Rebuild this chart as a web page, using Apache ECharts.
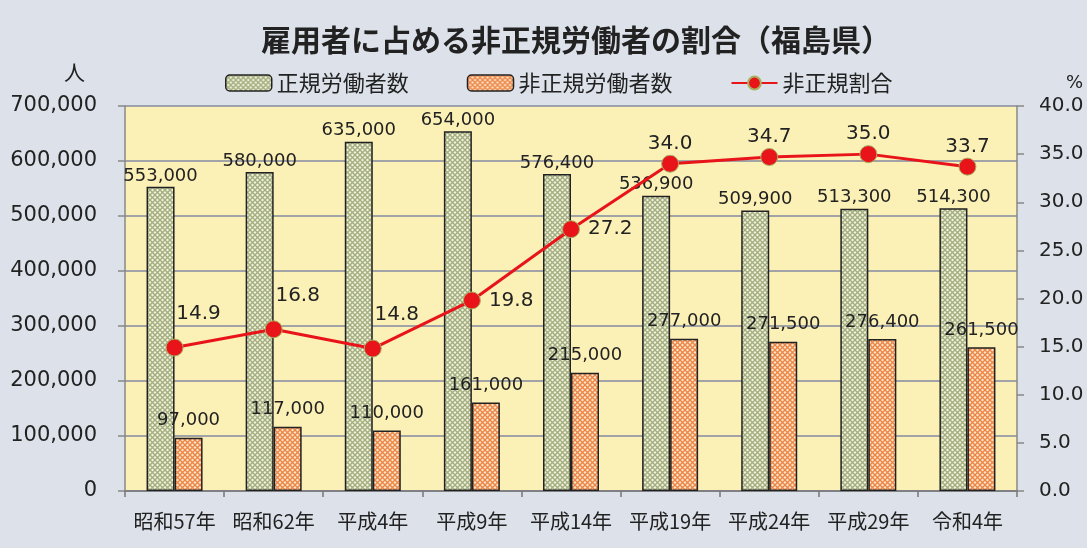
<!DOCTYPE html>
<html>
<head>
<meta charset="utf-8">
<script src="https://cdn.jsdelivr.net/npm/echarts@6/dist/echarts.min.js"></script>
<style>
html, body { margin: 0; padding: 0; background: #dde2ea; }
#main { width: 1087px; height: 548px; }
</style>
</head>
<body>
<div id="main"></div>
<script>
// 年次
const years = ['昭和57年', '昭和62年', '平成4年', '平成9年', '平成14年', '平成19年', '平成24年', '平成29年', '令和4年'];
// 正規労働者数（人）
const regular = [553000, 580000, 635000, 654000, 576400, 536900, 509900, 513300, 514300];
// 非正規労働者数（人）
const nonRegular = [97000, 117000, 110000, 161000, 215000, 277000, 271500, 276400, 261500];
// 非正規割合（%）
const ratio = [14.9, 16.8, 14.8, 19.8, 27.2, 34.0, 34.7, 35.0, 33.7];

const numFont = '"DejaVu Sans", Verdana, sans-serif';
const jpFont = '"Noto Sans CJK JP", sans-serif';

// 網掛け模様
function hatch(bg, fg) {
  const c = document.createElement('canvas');
  c.width = 5; c.height = 5;
  const ctx = c.getContext('2d');
  ctx.fillStyle = bg;
  ctx.fillRect(0, 0, 5, 5);
  ctx.strokeStyle = fg;
  ctx.lineWidth = 1.4;
  ctx.beginPath();
  ctx.moveTo(-1, -1); ctx.lineTo(6, 6);
  ctx.moveTo(6, -1); ctx.lineTo(-1, 6);
  ctx.stroke();
  return { image: c, repeat: 'repeat' };
}

const green = hatch('#f0f2da', '#a3ad80');
const orange = hatch('#fce4c6', '#ec8648');

let myChart = echarts.init(document.getElementById('main'));

// 割合ラベルの位置
const ratioLabel = ratio.map((v, i) => {
  if (i < 3) return { value: v, label: { position: 'top', offset: [24, -10] } };
  if (i < 5) return { value: v, label: { position: 'right', distance: 8 } };
  return { value: v, label: { position: 'top', distance: 1 } };
});

myChart.setOption({
  backgroundColor: '#dde2ea',
  title: {
    text: '雇用者に占める非正規労働者の割合（福島県）',
    left: 256,
    top: 20,
    textStyle: { fontFamily: jpFont, fontSize: 30, fontWeight: 'bold', color: '#222' }
  },
  legend: {
    left: 220,
    top: 67,
    itemWidth: 46,
    itemHeight: 16,
    itemGap: 58,
    textStyle: { fontFamily: jpFont, fontSize: 22, color: '#222' },
    data: [
      { name: '正規労働者数', itemStyle: { color: green, borderColor: '#222', borderWidth: 1.5 } },
      { name: '非正規労働者数', itemStyle: { color: orange, borderColor: '#222', borderWidth: 1.5 } },
      { name: '非正規割合' }
    ]
  },
  graphic: [
    { type: 'text', left: 64, top: 62, style: { text: '人', font: '21px ' + jpFont, fill: '#222' } },
    { type: 'text', left: 1066, top: 74, style: { text: '%', font: '18px ' + numFont, fill: '#222' } }
  ],
  grid: { left: 125, right: 70, top: 106, bottom: 57, backgroundColor: '#fbf0b6', show: true, borderWidth: 0 },
  xAxis: {
    type: 'category',
    data: years,
    axisLine: { lineStyle: { color: '#777', width: 1.5 } },
    axisTick: { show: true, length: 6, lineStyle: { color: '#777', width: 1.5 } },
    axisLabel: { interval: 0, fontFamily: jpFont, fontSize: 20, color: '#222', margin: 20 }
  },
  yAxis: [
    {
      type: 'value',
      min: 0, max: 700000, interval: 100000,
      axisLine: { show: true, lineStyle: { color: '#888', width: 1.5 } },
      axisTick: { show: true, length: 7, lineStyle: { color: '#888', width: 1.5 } },
      splitLine: { lineStyle: { color: '#858aa0', width: 1.5 } },
      axisLabel: {
        fontFamily: numFont, fontSize: 21, color: '#222', margin: 28,
        formatter: v => v.toLocaleString('en-US')
      }
    },
    {
      type: 'value',
      min: 0, max: 40, interval: 5,
      axisLine: { show: true, lineStyle: { color: '#888', width: 1.5 } },
      axisTick: { show: true, length: 7, lineStyle: { color: '#888', width: 1.5 } },
      splitLine: { show: false },
      axisLabel: {
        fontFamily: numFont, fontSize: 20, color: '#222', margin: 22,
        formatter: v => v.toFixed(1)
      }
    }
  ],
  series: [
    {
      name: '正規労働者数',
      type: 'bar',
      data: regular,
      barWidth: 28,
      barGap: '0%',
      itemStyle: { color: green, borderColor: '#222', borderWidth: 1.5 },
      label: {
        show: true, position: 'top', distance: 2,
        fontFamily: numFont, fontSize: 18, color: '#222',
        formatter: p => p.value.toLocaleString('en-US')
      }
    },
    {
      name: '非正規労働者数',
      type: 'bar',
      data: nonRegular,
      barWidth: 28,
      itemStyle: { color: orange, borderColor: '#222', borderWidth: 1.5 },
      label: {
        show: true, position: 'top', distance: 8,
        fontFamily: numFont, fontSize: 18, color: '#222',
        formatter: p => p.value.toLocaleString('en-US')
      }
    },
    {
      name: '非正規割合',
      type: 'line',
      yAxisIndex: 1,
      data: ratioLabel,
      symbol: 'circle',
      symbolSize: 17,
      lineStyle: { color: '#e8141a', width: 3 },
      itemStyle: { color: '#e8141a', borderColor: '#a8b060', borderWidth: 1 },
      label: {
        show: true,
        fontFamily: numFont, fontSize: 20, color: '#222',
        formatter: p => p.value.toFixed(1)
      },
      z: 5
    }
  ]
});
</script>
</body>
</html>
